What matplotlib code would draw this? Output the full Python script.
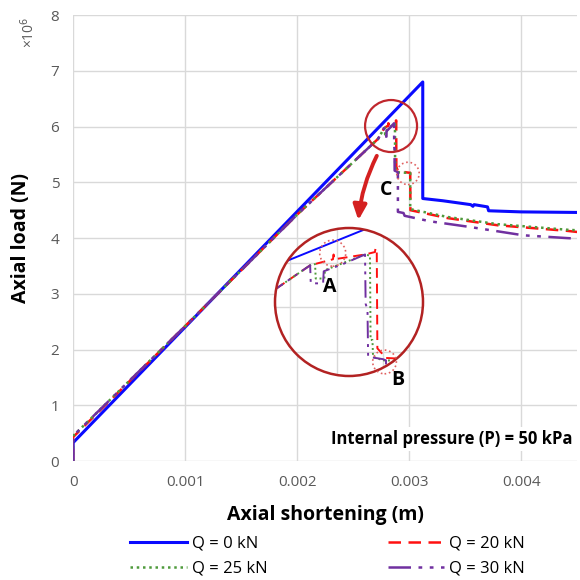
import numpy as np
import matplotlib.pyplot as plt
from matplotlib.patches import Circle, Ellipse

plt.rcParams['font.family'] = ['Open Sans', 'DejaVu Sans']

# axial shortening in mm, axial load in 1e6 N
x_q0 = [0, 0, 3.122, 3.122, 3.30, 3.55, 3.57, 3.58, 3.70, 3.71, 4.0, 4.5]
y_q0 = [0, 0.33, 6.80, 4.71, 4.67, 4.60, 4.57, 4.60, 4.56, 4.49, 4.47, 4.46]

x_q20 = [0, 0, 1.0, 2.0, 2.723, 2.777, 2.814, 2.815, 2.816, 2.866, 2.882, 2.883,
         2.885, 2.886, 2.90, 3.01, 3.012, 3.34, 3.79, 4.41, 4.5]
y_q20 = [0, 0.43, 2.42, 4.42, 5.78, 5.97, 6.02, 6.06, 6.02, 6.06, 6.08, 6.11,
         6.11, 5.28, 5.20, 5.17, 4.50, 4.36, 4.23, 4.13, 4.11]

x_q25 = [0, 0, 1.0, 2.0, 2.723, 2.777, 2.785, 2.786, 2.80, 2.801, 2.866, 2.874,
         2.875, 2.878, 2.879, 2.895, 3.0, 3.01, 3.01, 3.34, 3.79, 4.41, 4.5]
y_q25 = [0, 0.45, 2.42, 4.42, 5.78, 5.97, 5.98, 5.86, 5.86, 5.93, 6.06, 6.05,
         5.35, 5.35, 5.21, 5.18, 5.17, 5.17, 4.52, 4.38, 4.25, 4.15, 4.14]

x_q30 = [0, 0, 1.0, 2.0, 2.723, 2.777, 2.778, 2.798, 2.799, 2.83, 2.866, 2.867,
         2.870, 2.871, 2.895, 2.90, 2.90, 2.95, 2.96, 3.19, 3.54, 4.02, 4.41, 4.5]
y_q30 = [0, 0.45, 2.42, 4.42, 5.78, 5.97, 5.82, 5.82, 5.92, 5.98, 6.06, 5.65,
         5.60, 5.21, 5.19, 5.18, 4.47, 4.45, 4.40, 4.30, 4.20, 4.05, 4.00, 3.99]

labels = ['Q = 0 kN', 'Q = 20 kN', 'Q = 25 kN', 'Q = 30 kN']
xticks = [0, 0.001, 0.002, 0.003, 0.004]
xticklabels = ['0', '0.001', '0.002', '0.003', '0.004']
yticks = [0, 1, 2, 3, 4, 5, 6, 7, 8]

series = [
    (x_q0, y_q0, dict(color='#0a0aff', lw=2.2, ls='-')),
    (x_q20, y_q20, dict(color='#ff1010', lw=1.8, dashes=(5, 3))),
    (x_q25, y_q25, dict(color='#4f9a3c', lw=1.8, ls=(0, (1, 1.5)))),
    (x_q30, y_q30, dict(color='#7030a0', lw=1.8, dashes=(9, 3, 1.5, 3, 1.5, 3))),
]

fig = plt.figure(figsize=(5.8, 5.8), dpi=100)
ax = fig.add_axes([0.126, 0.205, 0.869, 0.769])

handles = []
for (xs, ys, st), lab in zip(series, labels):
    h, = ax.plot(np.array(xs) * 1e-3, ys, label=lab, **st)
    handles.append(h)

ax.set_xlim(0, 0.0045)
ax.set_ylim(0, 8)
ax.set_xticks(xticks)
ax.set_xticklabels(xticklabels)
ax.set_yticks(yticks)
ax.grid(color='#d9d9d9', lw=1)
ax.set_axisbelow(True)
for s in ax.spines.values():
    s.set_visible(False)
ax.tick_params(length=0, labelsize=11, labelcolor='#595959', pad=10)
ax.set_xlabel('Axial shortening (m)', fontsize=14, fontweight='bold', labelpad=11)
ax.set_ylabel('Axial load (N)', fontsize=14, fontweight='bold', labelpad=14)
fig.text(0.05, 0.945, '×10$^6$', rotation=90, fontsize=10, color='#595959',
         ha='center', va='center')

ax.text(0.99, 0.03, 'Internal pressure (P) = 50 kPa', transform=ax.transAxes,
        ha='right', va='bottom', fontsize=12, fontweight='bold',
        bbox=dict(facecolor='white', edgecolor='none', pad=2))

# marks on the main plot
ax.add_patch(Ellipse((2.839e-3, 6.01), 0.464e-3, 0.933, fill=False,
                     edgecolor='#c0272d', lw=1.6, zorder=5))
ax.add_patch(Ellipse((2.99e-3, 5.16), 0.20e-3, 0.40, fill=False,
                     edgecolor='#e06060', lw=1.2, ls=':', zorder=5))
ax.text(2.79e-3, 4.86, 'C', fontsize=14, fontweight='bold', ha='center', va='center')
ax.annotate('', xy=(2.545e-3, 4.27), xytext=(2.723e-3, 5.52),
            arrowprops=dict(arrowstyle='-|>,head_width=0.4,head_length=0.9',
                            color='#d42020', lw=2.8,
                            connectionstyle='arc3,rad=0.1'))

# circular zoom inset
axin = fig.add_axes([275 / 580, 1 - 376 / 580, 148 / 580, 148 / 580])
axin.patch.set_visible(False)
for s in axin.spines.values():
    s.set_visible(False)
axin.set_xticks([])
axin.set_yticks([])
axin.set_xlim(2.72e-3, 2.96e-3)
axin.set_ylim(5.05, 6.28)
bg = Circle((0.5, 0.5), 0.5, transform=axin.transAxes, facecolor='white',
            edgecolor='none', zorder=0)
axin.add_patch(bg)
for gx in [2.745e-3, 2.82e-3, 2.895e-3]:
    gl = axin.axvline(gx, color='#d9d9d9', lw=1, zorder=1)
    gl.set_clip_path(bg)
for gy in [5.25, 5.62, 5.99]:
    gl = axin.axhline(gy, color='#d9d9d9', lw=1, zorder=1)
    gl.set_clip_path(bg)
for xs, ys, st in series:
    st2 = dict(st)
    st2['lw'] = 1.4
    ln, = axin.plot(np.array(xs) * 1e-3, ys, zorder=2, **st2)
    ln.set_clip_path(bg)
axin.add_patch(Circle((0.5, 0.5), 0.5, transform=axin.transAxes, fill=False,
                      edgecolor='#b22222', lw=1.8, zorder=4, clip_on=False))
axin.add_patch(Circle((0.39, 0.83), 0.088, transform=axin.transAxes, fill=False,
                      edgecolor='#e06060', lw=1.2, ls=':', zorder=4, clip_on=False))
axin.add_patch(Circle((0.74, 0.095), 0.08, transform=axin.transAxes, fill=False,
                      edgecolor='#e06060', lw=1.2, ls=':', zorder=4, clip_on=False))
axin.text(0.37, 0.60, 'A', transform=axin.transAxes, fontsize=14,
          fontweight='bold', ha='center', va='center', zorder=5)
axin.text(0.83, -0.03, 'B', transform=axin.transAxes, fontsize=14,
          fontweight='bold', ha='center', va='center', zorder=5, clip_on=False)

order = [0, 2, 1, 3]
fig.legend([handles[i] for i in order], [labels[i] for i in order],
           loc='upper center', bbox_to_anchor=(0.565, 0.094), ncol=2,
           frameon=False, fontsize=12, handlelength=3.4, columnspacing=7.2,
           labelspacing=0.55, handletextpad=0.3, borderaxespad=0.2)

fig.savefig('out.png', dpi=100)
